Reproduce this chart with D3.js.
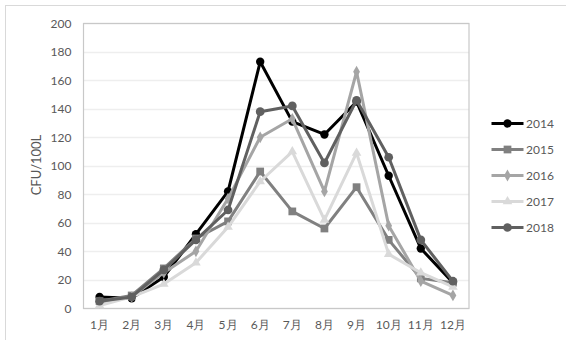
<!DOCTYPE html>
<html><head><meta charset="utf-8">
<script src="https://cdn.jsdelivr.net/npm/d3@7"></script>
<style>body{margin:0;background:#fff}svg{display:block}</style>
</head><body><svg id="c" width="566" height="340"></svg>
<script>
const months = ["1月","2月","3月","4月","5月","6月","7月","8月","9月","10月","11月","12月"];
const yTicks = [0,20,40,60,80,100,120,140,160,180,200];
const s2014 = [8,7,22,52,82,173,131,122,145,93,42,18];
const s2015 = [5,9,28,49,61,96,68,56,85,48,21,18];
const s2016 = [4,8,25,40,77,120,133,82,166,58,19,9];
const s2017 = [2,8,17,32,57,89,110,62,109,38,25,15];
const s2018 = [5,8,27,48,69,138,142,102,146,106,48,19];
const seriesNames = ["2014","2015","2016","2017","2018"];
const seriesData = [s2014,s2015,s2016,s2017,s2018];
const colors = ["#000000","#808080","#a5a5a5","#d9d9d9","#606060"];
const shapes = [d3.symbolCircle,d3.symbolSquare,d3.symbolDiamond,d3.symbolTriangle,d3.symbolCircle];
const sizes = [55,60,40,40,60];

const svg = d3.select("#c");
const font = "Lato, 'Liberation Sans', sans-serif";
svg.append("rect").attr("x",5.5).attr("y",5.5).attr("width",600).attr("height",400)
  .attr("fill","none").attr("stroke","#d9d9d9");

const L=83.5, R=469, T=23.3, B=308.3;
const x = d3.scaleBand().domain(months).range([L,R]);
const y = d3.scaleLinear().domain([0,200]).range([B,T]);

const g = svg.append("g");
g.selectAll("line.grid").data(yTicks).join("line")
  .attr("x1",L).attr("x2",R).attr("y1",d=>Math.round(y(d))+0.5).attr("y2",d=>Math.round(y(d))+0.5)
  .attr("stroke","#eeeeee").attr("stroke-width",1.5);
g.append("rect").attr("x",L).attr("y",Math.round(T)+0.5).attr("width",R-L).attr("height",Math.round(B)-Math.round(T))
  .attr("fill","none").attr("stroke","#c8c8c8").attr("stroke-width",1.2);

const yAxis = d3.axisLeft(y).tickValues(yTicks).tickSize(0).tickPadding(12);
const ya = svg.append("g").attr("transform",`translate(${L},0)`).call(yAxis);
ya.select(".domain").remove();
ya.selectAll("text").attr("font-family",font).attr("font-size",12).attr("fill","#595959");

const xAxis = d3.axisBottom(x).tickSize(0).tickPadding(12);
const xa = svg.append("g").attr("transform",`translate(0,${B})`).call(xAxis);
xa.select(".domain").remove();
xa.selectAll("text").attr("font-family",font).attr("font-size",12).attr("fill","#595959");

svg.append("text").attr("transform","translate(41,165) rotate(-90)")
  .attr("text-anchor","middle").attr("font-family",font).attr("font-size",13).attr("fill","#595959")
  .text("CFU/100L");

const line = d3.line().x((d,i)=>x(months[i])+x.bandwidth()/2).y(d=>y(d));
seriesData.forEach((data,k)=>{
  const sg = svg.append("g");
  sg.append("path").datum(data).attr("d",line).attr("fill","none")
    .attr("stroke",colors[k]).attr("stroke-width",3).attr("stroke-linejoin","round");
  sg.selectAll("path.m").data(data).join("path").attr("class","m")
    .attr("transform",(d,i)=>`translate(${x(months[i])+x.bandwidth()/2},${y(d)})`)
    .attr("d",d3.symbol().type(shapes[k]).size(sizes[k])).attr("fill",colors[k]);
});

const leg = svg.append("g");
seriesNames.forEach((n,k)=>{
  const ly = 123.5 + k*26;
  leg.append("line").attr("x1",491.5).attr("x2",523.5).attr("y1",ly).attr("y2",ly)
    .attr("stroke",colors[k]).attr("stroke-width",3);
  leg.append("path").attr("transform",`translate(507.5,${ly})`)
    .attr("d",d3.symbol().type(shapes[k]).size(sizes[k])).attr("fill",colors[k]);
  leg.append("text").attr("x",526).attr("y",ly).attr("dy","0.35em")
    .attr("font-family",font).attr("font-size",12).attr("fill","#595959").text(n);
});
</script></body></html>
